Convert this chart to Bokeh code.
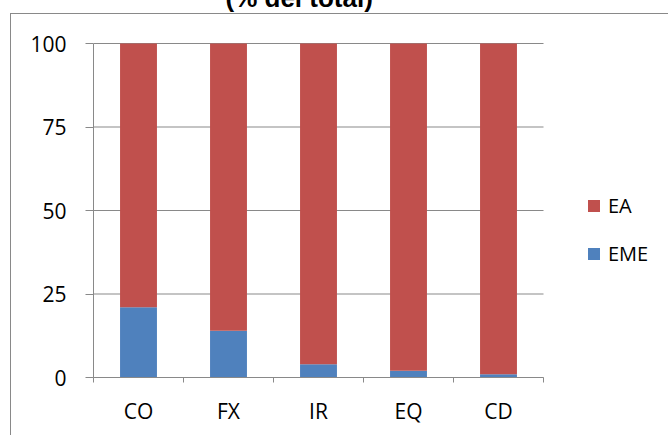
from bokeh.plotting import figure
from bokeh.models import (ColumnDataSource, FixedTicker, Range1d, Legend, LegendItem, Title)
from bokeh.embed import file_html
from bokeh.resources import INLINE

categories = ["CO", "FX", "IR", "EQ", "CD"]
eme = [21, 14, 4, 2, 1]
ea = [79, 86, 96, 98, 99]
y_ticks = [0, 25, 50, 75, 100]
title_text = "(% del total)"

BLUE = "#4F81BD"
RED = "#C0504D"
GRID = "#898989"
FONT = "Open Sans"

n = len(categories)
x = [i + 0.5 for i in range(n)]
src = ColumnDataSource(dict(x=x, cat=categories, EME=eme, EA=ea))

# layout (pixels)
SHIFT = 56            # canvas starts this far above the page top
W, H = 668, 435 + SHIFT
LEFT, TOP, BOTTOM = 93, 42 + SHIFT, 435 - 377
CAT_PX = 90
frame_w = W - LEFT

css = {
    "margin-top": f"-{SHIFT}px",
    "background-image": "linear-gradient(#898989,#898989), linear-gradient(#898989,#898989)",
    "background-size": "1px 100%, 100% 1px",
    "background-position": f"10px {13 + SHIFT}px, 10px {13 + SHIFT}px",
    "background-repeat": "no-repeat",
}

p = figure(width=W, height=H, output_backend="svg", toolbar_location=None,
           x_range=Range1d(0, frame_w / CAT_PX), y_range=Range1d(0, 100.3),
           min_border_left=LEFT, min_border_right=0, min_border_top=TOP,
           min_border_bottom=BOTTOM, styles=css)

p.outline_line_color = None
p.background_fill_color = "white"
p.border_fill_color = None

# horizontal gridlines only across the category area
p.segment(x0=0, x1=n, y0=y_ticks, y1=y_ticks, line_color=GRID, line_width=1)

renderers = p.vbar_stack(["EME", "EA"], x="x", width=0.41, color=[BLUE, RED],
                         line_color=None, source=src)

p.title = Title(text=title_text, align="left", offset=132, standoff=60,
                text_font="Liberation Sans", text_font_style="bold",
                text_font_size="26px", text_color="black")

# x axis
xa = p.xaxis[0]
xa.bounds = (0, n)
xa.ticker = FixedTicker(ticks=x, minor_ticks=list(range(n + 1)))
xa.major_label_overrides = {xi: c for xi, c in zip(x, categories)}
xa.major_tick_line_color = None
xa.major_tick_out = 0
xa.major_tick_in = 0
xa.minor_tick_line_color = GRID
xa.minor_tick_out = 5
xa.minor_tick_in = 0
xa.axis_line_color = GRID
xa.major_label_text_font = FONT
xa.major_label_text_font_size = "21px"
xa.major_label_text_color = "black"
xa.major_label_standoff = 14

# y axis
ya = p.yaxis[0]
ya.bounds = (0, 100)
ya.ticker = FixedTicker(ticks=y_ticks)
ya.major_tick_line_color = GRID
ya.major_tick_out = 8
ya.major_tick_in = 0
ya.minor_tick_line_color = None
ya.axis_line_color = GRID
ya.major_label_text_font = FONT
ya.major_label_text_font_size = "21px"
ya.major_label_text_color = "black"
ya.major_label_standoff = 19

p.xgrid.grid_line_color = None
p.ygrid.grid_line_color = None

legend = Legend(items=[LegendItem(label="EA", renderers=[renderers[1]]),
                       LegendItem(label="EME", renderers=[renderers[0]])],
                location=(493, 110), orientation="vertical",
                glyph_width=15, glyph_height=15, label_standoff=7, spacing=21,
                padding=0, margin=0, border_line_color=None,
                background_fill_alpha=0,
                label_text_font=FONT, label_text_font_size="20px",
                label_text_color="black")
p.add_layout(legend, "center")

open("out.html", "w").write(file_html(p, INLINE))
